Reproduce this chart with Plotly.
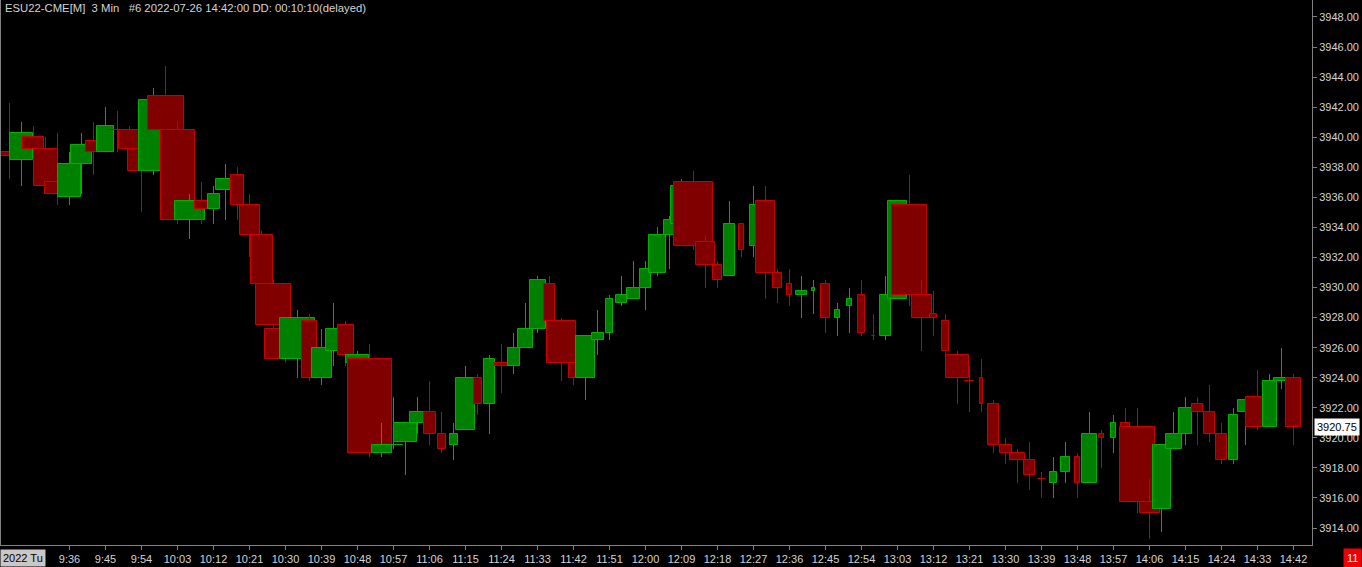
import pandas as pd
import plotly.graph_objects as go

# ---- data (ESU22 3-min bars, 2022-07-26) ----
times = pd.date_range("2022-07-26 09:21", periods=108, freq="3min")

opens = [3939.0, 3938.5, 3940.0, 3939.25, 3937.0, 3936.0, 3938.25, 3939.75, 3939.0, 3940.5,
         3940.5, 3939.25, 3937.75, 3942.75, 3940.5, 3934.5, 3935.75, 3935.25, 3936.5, 3937.5,
         3935.5, 3933.5, 3930.25, 3927.25, 3925.25, 3927.75, 3924.0, 3925.75, 3927.5, 3925.0,
         3925.25, 3919.0, 3919.5, 3919.75, 3921.0, 3921.75, 3920.25, 3919.5, 3920.5, 3924.0,
         3922.25, 3925.0, 3924.75, 3926.0, 3927.25, 3930.25, 3927.75, 3925.0, 3924.0, 3926.5,
         3927.0, 3929.0, 3929.25, 3930.0, 3931.0, 3933.5, 3934.25, 3937.0, 3933.0, 3931.5,
         3930.75, 3934.25, 3932.75, 3935.75, 3931.0, 3930.25, 3929.5, 3929.75, 3930.25, 3928.0,
         3928.75, 3929.5, 3926.75, 3926.75, 3929.25, 3935.5, 3929.5, 3928.25, 3927.75, 3925.5,
         3923.75, 3924.0, 3922.25, 3919.5, 3919.0, 3918.5, 3917.25, 3917.0, 3917.75, 3918.75,
         3917.0, 3920.25, 3920.0, 3921.0, 3920.75, 3915.75, 3915.25, 3919.25, 3920.25, 3922.25,
         3921.75, 3920.25, 3918.5, 3921.75, 3922.75, 3920.75, 3923.75, 3924.0]

highs = [3942.25, 3941.0, 3940.75, 3940.0, 3940.25, 3939.0, 3940.25, 3941.0, 3942.0, 3941.75,
         3940.75, 3939.5, 3943.25, 3944.75, 3941.0, 3936.25, 3937.0, 3936.75, 3938.25, 3938.0,
         3936.25, 3933.75, 3930.5, 3927.5, 3928.5, 3928.25, 3927.25, 3929.0, 3927.75, 3925.75,
         3926.25, 3921.0, 3922.75, 3921.0, 3922.75, 3923.75, 3921.75, 3921.0, 3924.75, 3924.25,
         3925.5, 3926.25, 3927.0, 3929.0, 3930.75, 3930.75, 3928.0, 3925.0, 3926.75, 3928.5,
         3929.5, 3930.75, 3931.75, 3931.75, 3934.0, 3934.75, 3937.25, 3937.75, 3933.5, 3931.75,
         3935.75, 3934.25, 3936.75, 3936.75, 3931.25, 3931.25, 3930.75, 3930.5, 3930.5, 3929.0,
         3930.0, 3930.5, 3928.25, 3930.75, 3935.75, 3937.5, 3930.5, 3929.75, 3928.25, 3925.75,
         3924.75, 3925.25, 3922.5, 3920.0, 3919.25, 3919.75, 3917.75, 3918.75, 3919.75, 3919.0,
         3921.75, 3920.5, 3921.5, 3922.0, 3922.0, 3917.25, 3919.5, 3921.75, 3922.75, 3922.75,
         3923.5, 3921.0, 3922.0, 3922.75, 3924.5, 3924.25, 3926.0, 3924.25]

lows = [3937.25, 3936.75, 3939.0, 3936.5, 3935.5, 3935.5, 3936.25, 3937.5, 3939.0, 3939.0,
        3939.25, 3935.0, 3937.5, 3940.5, 3934.25, 3933.25, 3934.25, 3934.25, 3934.5, 3934.5,
        3932.0, 3930.0, 3927.25, 3925.0, 3924.0, 3923.75, 3923.5, 3924.75, 3924.75, 3924.75,
        3918.75, 3918.75, 3919.25, 3917.5, 3920.25, 3919.5, 3919.0, 3918.5, 3920.5, 3921.5,
        3920.25, 3923.0, 3924.25, 3926.0, 3927.0, 3927.75, 3923.75, 3923.5, 3922.5, 3925.5,
        3926.5, 3928.75, 3929.25, 3928.5, 3930.75, 3931.25, 3934.0, 3932.5, 3930.0, 3930.0,
        3930.75, 3932.0, 3932.0, 3929.25, 3929.0, 3928.75, 3928.0, 3928.25, 3927.0, 3926.75,
        3927.0, 3926.75, 3926.5, 3926.5, 3929.25, 3928.75, 3925.75, 3926.75, 3925.0, 3922.25,
        3921.75, 3921.75, 3919.0, 3918.25, 3917.0, 3916.5, 3916.0, 3916.0, 3917.0, 3916.0,
        3917.0, 3918.0, 3919.0, 3920.25, 3915.0, 3913.25, 3913.75, 3919.25, 3919.5, 3919.5,
        3919.75, 3918.25, 3918.25, 3919.5, 3920.5, 3920.75, 3923.25, 3919.5]

closes = [3938.75, 3940.25, 3939.25, 3936.75, 3936.25, 3938.25, 3939.5, 3939.0, 3940.75, 3940.5,
          3939.25, 3937.75, 3942.5, 3940.5, 3934.5, 3935.75, 3935.25, 3936.25, 3937.25, 3935.5,
          3933.5, 3930.25, 3927.5, 3925.25, 3928.0, 3924.0, 3926.0, 3927.25, 3925.5, 3925.5,
          3919.0, 3919.5, 3919.5, 3921.0, 3921.75, 3920.25, 3919.25, 3920.25, 3924.0, 3922.25,
          3925.25, 3924.75, 3926.0, 3927.25, 3930.5, 3927.75, 3925.0, 3924.0, 3926.75, 3927.0,
          3929.25, 3929.5, 3930.0, 3931.25, 3933.5, 3934.5, 3936.75, 3932.75, 3931.5, 3930.5,
          3934.25, 3932.5, 3935.5, 3931.0, 3930.0, 3929.5, 3929.75, 3930.0, 3928.0, 3928.5,
          3929.25, 3927.0, 3926.75, 3929.5, 3935.75, 3929.5, 3928.0, 3928.0, 3925.75, 3924.0,
          3923.75, 3922.25, 3919.5, 3919.0, 3918.5, 3917.5, 3917.25, 3917.75, 3918.75, 3917.0,
          3920.25, 3920.0, 3921.0, 3920.5, 3915.75, 3915.0, 3919.5, 3920.25, 3922.0, 3921.75,
          3920.25, 3918.5, 3921.5, 3922.5, 3920.75, 3923.75, 3924.0, 3920.75]

volumes = [10000, 11400, 10200, 12000, 13000, 11200, 10400, 8000, 8200, 9700,
           10400, 14000, 15000, 18000, 17000, 15000, 7000, 6000, 10000, 6200,
           10000, 11000, 17200, 21000, 17200, 7200, 10000, 8000, 8000, 11200,
           22000, 10000, 9600, 11200, 8000, 6000, 4000, 4000, 9400, 4000,
           5200, 7000, 6000, 7200, 8000, 5200, 14200, 5000, 9400, 6000,
           3400, 5200, 6200, 5200, 8200, 5400, 10400, 19400, 9200, 4200,
           5200, 2200, 4000, 9200, 4200, 2200, 5200, 1200, 4200, 2200,
           2200, 3200, 1700, 5200, 9200, 17400, 10000, 3200, 3200, 11200,
           4200, 1200, 5200, 6000, 7200, 5200, 3500, 3200, 4200, 2200,
           7200, 2200, 2200, 4200, 17400, 10000, 9000, 8000, 6200, 5200,
           5200, 5200, 4200, 8000, 11700, 7000, 8000, 7200]

last_price = 3920.75
title_text = "ESU22-CME[M]\u00a0\u00a03 Min\u00a0\u00a0\u00a0#6 2022-07-26 14:42:00 DD: 00:10:10(delayed)"

# ---- styles ----
UP_FILL, UP_LINE = "#008000", "#00b000"
DN_FILL, DN_LINE = "#800000", "#c80000"
AXIS_COL = "#808080"
TXT_COL = "#d4d4d4"
FONT = "Liberation Sans, Arial, sans-serif"
VOL_TO_WIDTH = 1 / 6000.0      # bar-index units per contract
WICK_W = 0.04                  # bar-index units
MIN_BODY = 0.01                # price units for doji bodies

n = len(opens)
idx = list(range(n))

xs, bases, heights, widths, fills, lines, lws = [], [], [], [], [], [], []
prev_close = None
for i in idx:
    o, h, l, c = opens[i], highs[i], lows[i], closes[i]
    if c > o:
        up = True
    elif c < o:
        up = False
    else:
        up = prev_close is None or c >= prev_close
    fill = UP_FILL if up else DN_FILL
    lc = UP_LINE if up else DN_LINE
    # wick
    xs.append(i); bases.append(l); heights.append(h - l); widths.append(WICK_W)
    fills.append(lc); lines.append(lc); lws.append(0)
    # body
    xs.append(i); bases.append(min(o, c)); heights.append(max(abs(c - o), MIN_BODY))
    widths.append(volumes[i] * VOL_TO_WIDTH)
    fills.append(fill); lines.append(lc); lws.append(1)
    prev_close = c

fig = go.Figure()
fig.add_trace(go.Bar(
    x=xs, y=heights, base=bases, width=widths,
    marker=dict(color=fills, line=dict(color=lines, width=lws)),
    hoverinfo="skip", showlegend=False,
))

labels_idx = [i for i in idx if ((times[i].hour * 60 + times[i].minute) - (9 * 60 + 36)) % 9 == 0
              and (times[i].hour * 60 + times[i].minute) >= 9 * 60 + 36]
labels_txt = [f"{times[i].hour}:{times[i].minute:02d}" for i in labels_idx]

fig.update_layout(
    width=1362, height=567,
    margin=dict(l=0, r=50, t=0, b=22),
    paper_bgcolor="black", plot_bgcolor="black",
    barmode="overlay", bargap=0, bargroupgap=0,
    showlegend=False,
    font=dict(family=FONT, size=11, color=TXT_COL),
    xaxis=dict(
        range=[-0.7917, 108.5417], tickvals=labels_idx, ticktext=labels_txt,
        showgrid=False, zeroline=False, showline=True, linecolor=AXIS_COL, linewidth=1,
        ticks="outside", ticklen=4, tickcolor=AXIS_COL, tickwidth=1,
        tickfont=dict(family=FONT, size=11, color=TXT_COL),
    ),
    yaxis=dict(
        side="right", range=[3912.87, 3949.13], tick0=3914, dtick=2, tickformat=".2f",
        showgrid=False, zeroline=False, showline=True, linecolor=AXIS_COL, linewidth=1,
        ticks="outside", ticklen=4, tickcolor=AXIS_COL, tickwidth=1,
        tickfont=dict(family=FONT, size=11, color=TXT_COL),
    ),
    shapes=[dict(type="line", xref="paper", yref="paper", x0=0, x1=0, y0=0, y1=1,
                 line=dict(color=AXIS_COL, width=2))],
)

# title at top-left
fig.add_annotation(xref="paper", yref="paper", x=0, y=1, xanchor="left", yanchor="top",
                   xshift=3, yshift=0, text=title_text, showarrow=False,
                   font=dict(family=FONT, size=11.3, color=TXT_COL))
# date label at bottom-left
fig.add_annotation(xref="paper", yref="paper", x=0, y=0, xanchor="left", yanchor="top",
                   yshift=-4, text="2022 Tu", showarrow=False, bgcolor="#c8c8c8",
                   borderpad=2, font=dict(family=FONT, size=11, color="#000000"))
# last price marker
fig.add_annotation(xref="paper", yref="y", x=1, y=last_price, xanchor="left", yanchor="middle",
                   xshift=2, text=f"{last_price:.2f}", showarrow=False, bgcolor="#ffffff",
                   borderpad=2, font=dict(family=FONT, size=11, color="#000000"))
# red counter box bottom right
fig.add_annotation(xref="paper", yref="paper", x=1362 / 1312, y=0, xanchor="right", yanchor="top",
                   yshift=-3, text="11", showarrow=False, bgcolor="#ee0000",
                   borderpad=3, font=dict(family=FONT, size=11, color="#ffffff"))

fig.write_html("out.html", config={"displayModeBar": False},
               post_script="document.body.style.margin='0';document.body.style.overflow='hidden';")
